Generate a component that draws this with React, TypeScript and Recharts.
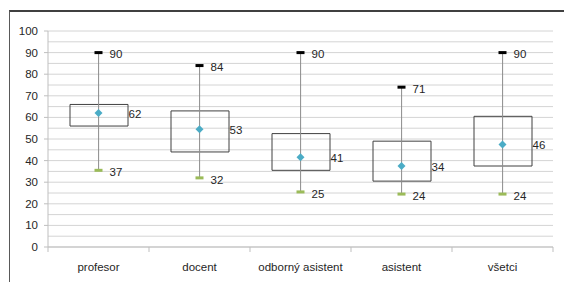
import React from "react";
import {
  ComposedChart,
  Bar,
  Scatter,
  XAxis,
  YAxis,
  CartesianGrid,
} from "recharts";

const categories = ["profesor", "docent", "odborný asistent", "asistent", "všetci"];
const maxValues = [90, 84, 90, 74, 90];
const maxLabels = [90, 84, 90, 71, 90];
const q3Values = [66, 63, 52.5, 49, 60.5];
const q1Values = [56, 44, 35.5, 30.5, 37.5];
const meanValues = [62, 54.5, 41.5, 37.5, 47.5];
const meanLabels = [62, 53, 41, 34, 46];
const minValues = [35.5, 32, 25.5, 24.5, 24.5];
const minLabels = [37, 32, 25, 24, 24];
const yTicks = [0, 10, 20, 30, 40, 50, 60, 70, 80, 90, 100];
const gridValues = [0, 5, 10, 15, 20, 25, 30, 35, 40, 45, 50, 55, 60, 65, 70, 75, 80, 85, 90, 95, 100];

const data = categories.map((cat, i) => ({
  cat,
  max: maxValues[i],
  maxLabel: maxLabels[i],
  min: minValues[i],
  minLabel: minLabels[i],
  mean: meanValues[i],
  meanLabel: meanLabels[i],
  box: [q1Values[i], q3Values[i]],
  range: [minValues[i], maxValues[i]],
}));

const W = 564;
const H = 282;
const Y_WIDTH = 48;
const MARGIN = { top: 31, right: 11, bottom: 0, left: 0 };
const BOX = 58;
const FONT = '"Liberation Sans", Arial, sans-serif';
const TEXT = "#262626";
const band = (W - Y_WIDTH - MARGIN.left - MARGIN.right) / categories.length;

function XTick(props: any) {
  const { x, y, payload, index } = props;
  return (
    <g>
      <line x1={x - band / 2} x2={x - band / 2} y1={y} y2={y + 5} stroke="#bfbfbf" />
      {index === categories.length - 1 && (
        <line x1={x + band / 2} x2={x + band / 2} y1={y} y2={y + 5} stroke="#bfbfbf" />
      )}
      <text
        x={x}
        y={y + 20}
        textAnchor="middle"
        dominantBaseline="central"
        fontSize={11.5}
        fontFamily={FONT}
        fill={TEXT}
      >
        {payload.value}
      </text>
    </g>
  );
}

function label(x: number, y: number, value: number) {
  return (
    <text x={x} y={y} dominantBaseline="central" fontSize={11.5} fontFamily={FONT} fill={TEXT}>
      {value}
    </text>
  );
}

function MaxMark(props: any) {
  const { cx, cy, payload } = props;
  return (
    <g>
      <rect x={cx - 4} y={cy - 1.5} width={8} height={3} fill="#000" />
      {label(cx + 11, cy + 1.5, payload.maxLabel)}
    </g>
  );
}

function MinMark(props: any) {
  const { cx, cy, payload } = props;
  return (
    <g>
      <rect x={cx - 4} y={cy - 1.5} width={8} height={3} fill="#9bbb59" />
      {label(cx + 11, cy + 2, payload.minLabel)}
    </g>
  );
}

function MeanMark(props: any) {
  const { cx, cy, payload } = props;
  return (
    <g>
      <path d={`M${cx},${cy - 4}L${cx + 4},${cy}L${cx},${cy + 4}L${cx - 4},${cy}Z`} fill="#4bacc6" />
      {label(cx + BOX / 2 + 1, cy + 1, payload.meanLabel)}
    </g>
  );
}

function Whisker(props: any) {
  const { x, y, width, height } = props;
  const cx = x + width / 2;
  return <line x1={cx} x2={cx} y1={y} y2={y + height} stroke="#8c8c8c" strokeWidth={1} />;
}

export default function App() {
  return (
    <div style={{ position: "absolute", left: 0, top: 0, width: W, height: H, background: "#fff", overflow: "hidden" }}>
      <div
        style={{
          position: "absolute",
          left: 9,
          top: 10,
          width: 600,
          height: 300,
          borderTop: "2px solid #404040",
          borderLeft: "1px solid #595959",
        }}
      />
      <div style={{ position: "absolute", left: 0, top: 0 }}>
        <ComposedChart width={W} height={H} data={data} margin={MARGIN}>
          <CartesianGrid
            vertical={false}
            horizontalValues={gridValues}
            stroke="#d4d4d4"
          />
          <XAxis
            dataKey="cat"
            axisLine={{ stroke: "#bfbfbf" }}
            tickLine={false}
            tickSize={0}
            tickMargin={0}
            height={35}
            interval={0}
            tick={<XTick />}
          />
          <XAxis dataKey="cat" xAxisId="w" hide />
          <YAxis
            domain={[0, 100]}
            ticks={yTicks}
            interval={0}
            width={Y_WIDTH}
            axisLine={{ stroke: "#bfbfbf" }}
            tickLine={{ stroke: "#bfbfbf" }}
            tickSize={4}
            tickMargin={6}
            tick={{ fontSize: 11.5, fontFamily: FONT, fill: TEXT }}
          />
          <Bar
            dataKey="box"
            barSize={BOX}
            fill="none"
            stroke="#404040"
            strokeWidth={1}
            isAnimationActive={false}
          />
          <Bar dataKey="range" xAxisId="w" shape={<Whisker />} isAnimationActive={false} />
          <Scatter dataKey="max" shape={<MaxMark />} isAnimationActive={false} />
          <Scatter dataKey="min" shape={<MinMark />} isAnimationActive={false} />
          <Scatter dataKey="mean" shape={<MeanMark />} isAnimationActive={false} />
        </ComposedChart>
      </div>
    </div>
  );
}
